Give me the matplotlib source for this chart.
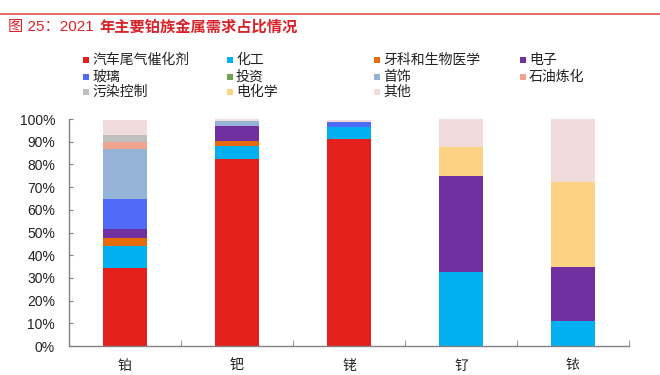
import matplotlib.pyplot as plt
import numpy as np
from matplotlib.patches import Rectangle
from matplotlib.lines import Line2D

plt.rcParams['font.family'] = ['Liberation Sans', 'Noto Sans CJK SC']

# ========================================
# 数据 (%)
# ========================================
metales = ["铂", "钯", "铑", "钌", "铱"]

categorias = ["汽车尾气催化剂", "化工", "牙科和生物医学", "电子", "玻璃", "投资",
              "首饰", "石油炼化", "污染控制", "电化学", "其他"]

auto_cat   = [34.4, 82.5, 91.1,  0.0,  0.0]
quimica    = [ 9.6,  5.8,  5.6, 32.4, 11.1]
dental     = [ 3.8,  2.2,  0.0,  0.0,  0.0]
electronica = [ 3.7,  6.6,  0.0, 42.4, 23.8]
vidrio     = [13.4,  0.0,  2.2,  0.0,  0.0]
inversion  = [ 0.0,  0.0,  0.0,  0.0,  0.0]
joyeria    = [21.8,  2.0,  0.0,  0.0,  0.0]
petroleo   = [ 3.3,  0.0,  0.0,  0.0,  0.0]
contaminacion = [3.1, 0.0,  0.0,  0.0,  0.0]
electroquimica = [0.0, 0.0, 0.0, 13.0, 37.2]
otros      = [ 6.6,  0.9,  0.6, 12.2, 27.9]

series = [auto_cat, quimica, dental, electronica, vidrio, inversion,
          joyeria, petroleo, contaminacion, electroquimica, otros]

colores = ["#E3201B", "#00B0F0", "#E46C0A", "#7030A0", "#4F6BF7", "#70A050",
           "#95B3D7", "#F2A58E", "#BFBFBF", "#FCD283", "#F2DCDB"]

# ========================================
# Figura
# ========================================
fig = plt.figure(figsize=(6.6, 3.75), dpi=100)
ax = fig.add_axes([0.1045, 0.0773, 0.8485, 0.6053])

x = np.arange(len(metales))
base = np.zeros(len(metales))
for vals, col in zip(series, colores):
    vals = np.array(vals)
    ax.bar(x, vals, 0.4, bottom=base, color=col, linewidth=0)
    base += vals

ax.set_xlim(-0.5, len(metales) - 0.5)
ax.set_ylim(0, 100)
ax.set_yticks(np.arange(0, 101, 10))
ax.set_yticklabels([f"{v}%" for v in range(0, 101, 10)])
ax.set_xticks(x)
ax.set_xticklabels(metales)
ax.set_xticks(np.arange(-0.5, len(metales), 1), minor=True)

for s in ["top", "right"]:
    ax.spines[s].set_visible(False)
for s in ["left", "bottom"]:
    ax.spines[s].set_color("#808080")
    ax.spines[s].set_linewidth(1.0)

ax.tick_params(axis="y", direction="in", length=3, color="#808080",
               labelsize=10, labelcolor="#222222", pad=10)
ax.tick_params(axis="x", which="major", length=0, labelsize=10,
               labelcolor="#222222", pad=9)
ax.tick_params(axis="x", which="minor", direction="in", length=4, color="#808080")

# ========================================
# Leyenda manual (4 columnas)
# ========================================
W, H = 660.0, 375.0
col_x = [83, 227, 374, 520]
row_y = [60, 76.5, 92]
for i, (lab, col) in enumerate(zip(categorias, colores)):
    cx = col_x[i % 4]
    cy = row_y[i // 4]
    fig.patches.append(Rectangle((cx / W, 1 - (cy + 3) / H), 6 / W, 6 / H,
                                 transform=fig.transFigure, color=col,
                                 linewidth=0))
    fig.text((cx + 9) / W, 1 - cy / H, lab, fontsize=10, va="center",
             ha="left", color="#222222")

# ========================================
# Titulo
# ========================================
fig.add_artist(Line2D([0, 1], [1 - 14 / H, 1 - 14 / H], transform=fig.transFigure,
                      color="#E06060", linewidth=1.3))
fig.text(8 / W, 1 - 27 / H, "图 25：2021", fontsize=11, color="#D9232A",
         va="center", ha="left")
fig.text(99 / W, 1 - 27 / H, "年主要铂族金属需求占比情况", fontsize=11,
         color="#D9232A", va="center", ha="left", fontweight="bold")

plt.savefig("out.png", dpi=100)
plt.close()
